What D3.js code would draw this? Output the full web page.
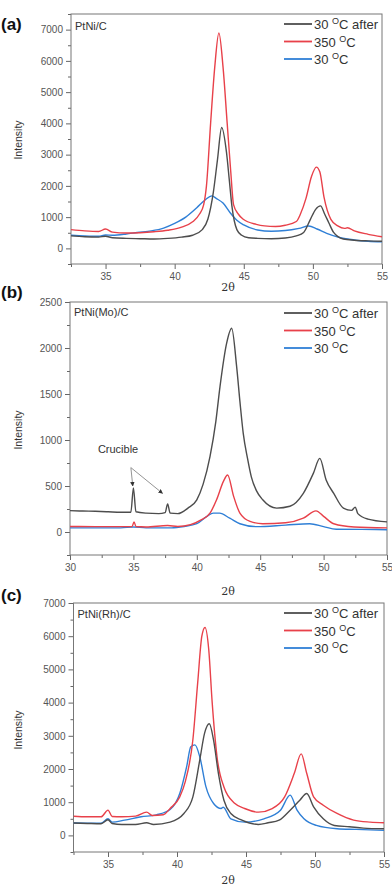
<!DOCTYPE html>
<html><head><meta charset="utf-8">
<script src="https://cdn.jsdelivr.net/npm/d3@7"></script>
<style>body{margin:0;background:#fff}svg{display:block}</style>
</head><body>
<script>
// ---------- data ----------
const seriesNames = ["30 \u00B0C after", "350 \u00B0C", "30 \u00B0C"];
const panelLetters = ["(a)", "(b)", "(c)"];
const sampleNames = ["PtNi/C", "PtNi(Mo)/C", "PtNi(Rh)/C"];

const xTicksA = [35, 40, 45, 50, 55];
const yTicksA = [0, 1000, 2000, 3000, 4000, 5000, 6000, 7000];
const xTicksB = [30, 35, 40, 45, 50, 55];
const yTicksB = [0, 500, 1000, 1500, 2000, 2500];
const xTicksC = [35, 40, 45, 50, 55];
const yTicksC = [0, 1000, 2000, 3000, 4000, 5000, 6000, 7000];

// Panel (a) PtNi/C
const a_after = [[32.5,400],[33.5,370],[34.5,360],[35,390],[35.5,340],[36.5,320],[37.5,310],[38.5,300],[39.5,320],[40.5,360],[41.3,420],[42,600],[42.4,930],[42.8,1800],[43.1,2850],[43.4,3870],[43.75,3070],[43.95,2200],[44.14,1360],[44.5,600],[44.85,420],[45.35,340],[46,320],[47,310],[48,330],[48.8,400],[49.33,510],[49.82,930],[50.2,1250],[50.55,1360],[50.85,1100],[51.15,820],[51.5,510],[52.2,300],[53,260],[54,240],[55,230]];
const a_350 = [[32.5,600],[33.5,560],[34.5,540],[35,620],[35.5,520],[36.5,490],[37.5,500],[38.5,530],[39.5,580],[40.5,680],[41.3,850],[41.8,1100],[42.1,1400],[42.3,2000],[42.6,4000],[42.9,5800],[43.2,6890],[43.5,5800],[43.8,4000],[44.05,2500],[44.26,1400],[44.6,1100],[44.96,930],[45.9,770],[46.5,720],[47.3,700],[48,740],[48.8,860],[49.1,1100],[49.5,1600],[49.9,2300],[50.25,2600],[50.5,2450],[50.8,1650],[51.3,930],[51.8,720],[52.3,640],[52.5,660],[53,560],[54,450],[55,370]];
const a_30 = [[32.5,420],[33.5,400],[34.5,390],[35,430],[35.5,420],[36.5,460],[37.3,510],[38.3,560],[39.2,650],[40,800],[40.8,1000],[41.6,1300],[42.2,1550],[42.7,1680],[43,1600],[43.5,1450],[44,1150],[44.5,900],[45,750],[46,590],[47,550],[48,570],[49,640],[49.7,715],[50.3,620],[51,480],[52,340],[53,270],[54,230],[55,210]];

// Panel (b) PtNi(Mo)/C
const b_after = [[30,232],[31,228],[32,225],[33,220],[34,215],[34.8,215],[35,478],[35.2,220],[36,205],[37,200],[37.5,210],[37.7,304],[37.9,205],[38.5,200],[39.3,260],[40,350],[40.5,520],[41.04,820],[41.5,1200],[41.83,1580],[42.35,2050],[42.75,2214],[43.14,1800],[43.4,1420],[43.66,1075],[44,800],[44.3,600],[44.7,450],[45.2,350],[46.3,260],[47.35,280],[48.4,420],[49.2,640],[49.7,800],[50.2,565],[50.8,420],[51.56,260],[52.2,235],[52.5,270],[52.7,200],[53.5,140],[55,110]];
const b_350 = [[30,60],[32,58],[34,58],[34.9,60],[35.05,110],[35.2,60],[36,55],[37.7,70],[38.5,60],[39.5,80],[40.3,130],[41.04,205],[41.56,350],[42.1,550],[42.43,620],[42.9,390],[43.4,205],[44.2,115],[45.2,90],[47,100],[48.4,150],[49.4,230],[50,170],[50.8,90],[52.4,55],[55,45]];
const b_30 = [[30,45],[32,45],[34,45],[35,55],[36,45],[38,45],[39,60],[40,90],[40.8,170],[41.3,205],[41.8,205],[42.6,150],[43.4,90],[44.7,58],[47,75],[48.9,90],[50,58],[51,30],[53,28],[55,25]];

// Panel (c) PtNi(Rh)/C
const c_after = [[32.5,373],[33.5,360],[34.5,350],[35,470],[35.3,360],[36,330],[37,330],[37.8,380],[38.3,330],[39.5,400],[40.5,660],[41.15,1160],[41.65,2270],[42,3080],[42.34,3364],[42.65,2870],[43,1870],[43.4,1060],[43.9,660],[44.7,460],[45.9,330],[46.6,380],[47.4,460],[48.2,760],[48.9,1060],[49.4,1263],[49.9,860],[50.6,500],[51.4,300],[52.5,260],[53.5,220],[55,200]];
const c_350 = [[32.5,576],[33.5,560],[34.5,560],[35,760],[35.3,570],[36,560],[37,580],[37.8,700],[38.2,600],[39,620],[39.5,810],[40.2,1160],[40.6,1620],[41.15,2880],[41.5,4600],[41.8,6000],[42.03,6264],[42.3,5600],[42.55,4000],[42.9,2370],[43.4,1460],[44.2,960],[44.9,810],[45.9,700],[46.9,810],[47.8,1160],[48.5,1870],[49,2455],[49.4,1870],[49.9,1160],[50.6,910],[51.6,660],[52.8,460],[54,400],[55,380]];
const c_30 = [[32.5,373],[33.5,370],[34.5,370],[35,500],[35.3,400],[36.2,460],[37.4,560],[38.5,620],[39.5,780],[40.2,1260],[40.7,2070],[41,2670],[41.3,2727],[41.65,2370],[42.1,1460],[42.65,960],[43.2,810],[43.35,850],[43.9,500],[44.9,400],[46.3,500],[47.5,760],[48.2,1212],[48.7,760],[49.2,500],[50.1,300],[51.6,200],[53,180],[55,150]];

// ---------- layout ----------
const colors = ["#4d4d4d", "#e8414a", "#2f7fd6"];
const panels = [
  {x0:71, x1:382, y0:14, y1:264, xd:[32.5,55], yd:[-500,7500], xt:xTicksA, yt:yTicksA, xm:2.5, ym:500,
   series:[a_after,a_350,a_30], letterY:30, sampleY:30, legY:24, xlabY:291, ylabY:140},
  {x0:70, x1:387, y0:302, y1:555, xd:[30,55], yd:[-250,2500], xt:xTicksB, yt:yTicksB, xm:2.5, ym:250,
   series:[b_after,b_350,b_30], letterY:298, sampleY:316, legY:313, xlabY:595, ylabY:430},
  {x0:73.5, x1:384, y0:603, y1:852, xd:[32.5,55], yd:[-500,7000], xt:xTicksC, yt:yTicksC, xm:2.5, ym:500,
   series:[c_after,c_350,c_30], letterY:601, sampleY:618, legY:613, xlabY:884, ylabY:730}
];

const svg = d3.select("body").append("svg").attr("width",392).attr("height",888)
  .style("font-family","Arial, 'Liberation Sans', sans-serif");

panels.forEach((p, i) => {
  const x = d3.scaleLinear().domain(p.xd).range([p.x0, p.x1]);
  const y = d3.scaleLinear().domain(p.yd).range([p.y1, p.y0]);
  const g = svg.append("g");

  // minor ticks
  const xMinor = d3.range(p.xd[0], p.xd[1] + 0.001, p.xm).filter(v => !p.xt.includes(v));
  const yMinor = d3.range(Math.ceil(p.yd[0]/p.ym)*p.ym, p.yd[1] + 0.001, p.ym).filter(v => !p.yt.includes(v));
  g.append("g").attr("transform",`translate(0,${p.y1})`)
    .call(d3.axisBottom(x).tickValues(xMinor).tickSize(3).tickFormat(""))
    .call(s => s.select(".domain").remove()).selectAll("line").attr("stroke","#666");
  g.append("g").attr("transform",`translate(${p.x0},0)`)
    .call(d3.axisLeft(y).tickValues(yMinor).tickSize(3).tickFormat(""))
    .call(s => s.select(".domain").remove()).selectAll("line").attr("stroke","#666");

  // major axes
  const xa = g.append("g").attr("transform",`translate(0,${p.y1})`)
    .call(d3.axisBottom(x).tickValues(p.xt).tickSize(5).tickPadding(4).tickFormat(d3.format("d")));
  const ya = g.append("g").attr("transform",`translate(${p.x0},0)`)
    .call(d3.axisLeft(y).tickValues(p.yt).tickSize(5).tickPadding(3).tickFormat(d3.format("d")));
  [xa, ya].forEach(a => {
    a.select(".domain").remove();
    a.selectAll("line").attr("stroke","#666");
    a.selectAll("text").attr("fill","#555").style("font-size","10px").style("font-family","Arial, sans-serif");
  });

  // frame
  g.append("rect").attr("x",p.x0).attr("y",p.y0).attr("width",p.x1-p.x0).attr("height",p.y1-p.y0)
    .attr("fill","none").attr("stroke","#777").attr("stroke-width",1);

  // lines
  const line = d3.line().x(d => x(d[0])).y(d => y(d[1])).curve(d3.curveMonotoneX);
  const clipId = "clip"+i;
  g.append("clipPath").attr("id",clipId).append("rect")
    .attr("x",p.x0).attr("y",p.y0).attr("width",p.x1-p.x0).attr("height",p.y1-p.y0);
  [2,1,0].forEach(k => {
    g.append("path").datum(p.series[k]).attr("d",line).attr("fill","none")
      .attr("stroke",colors[k]).attr("stroke-width",1.4).attr("stroke-linejoin","round")
      .attr("clip-path",`url(#${clipId})`);
  });

  // panel letter
  svg.append("text").attr("x",1).attr("y",p.letterY).text(panelLetters[i])
    .style("font-size","17px").style("font-weight","bold").attr("fill","#111");
  // sample name
  svg.append("text").attr("x",p.x0+4).attr("y",p.sampleY).text(sampleNames[i])
    .style("font-size","11px").attr("fill","#333");

  // legend
  seriesNames.forEach((nm, k) => {
    const ly = p.legY + k*17.5;
    svg.append("line").attr("x1",284).attr("x2",312).attr("y1",ly).attr("y2",ly)
      .attr("stroke",colors[k]).attr("stroke-width",1.8);
    const t = svg.append("text").attr("x",314).attr("y",ly+5).style("font-size","13px").attr("fill","#333");
    const parts = nm.split("\u00B0");
    t.append("tspan").text(parts[0]);
    t.append("tspan").attr("dy",-5).style("font-size","9px").text("O");
    t.append("tspan").attr("dy",5).text(parts[1]);
  });

  // axis titles
  svg.append("text").attr("x",228).attr("y",p.xlabY).attr("text-anchor","middle")
    .style("font-family","'DejaVu Serif', 'Liberation Serif', serif").style("font-size","11px").attr("fill","#333")
    .text("2\u03B8");
  svg.append("text").attr("transform",`translate(22,${p.ylabY}) rotate(-90)`).attr("text-anchor","middle")
    .style("font-size","10.5px").attr("fill","#333").text("Intensity");
});

// crucible annotation (panel b)
{
  const p = panels[1];
  const x = d3.scaleLinear().domain(p.xd).range([p.x0, p.x1]);
  const y = d3.scaleLinear().domain(p.yd).range([p.y1, p.y0]);
  const defs = svg.append("defs");
  defs.append("marker").attr("id","arr").attr("viewBox","0 0 10 10").attr("refX",9).attr("refY",5)
    .attr("markerWidth",5).attr("markerHeight",5).attr("orient","auto")
    .append("path").attr("d","M0,0L10,5L0,10z").attr("fill","#333");
  svg.append("text").attr("x",x(32.2)).attr("y",y(860)).text("Crucible")
    .style("font-size","11px").attr("fill","#333");
  const sx = x(34.8), sy = y(700);
  svg.append("line").attr("x1",sx).attr("y1",sy).attr("x2",x(34.95)).attr("y2",y(500))
    .attr("stroke","#888").attr("stroke-width",0.9).attr("marker-end","url(#arr)");
  svg.append("line").attr("x1",sx).attr("y1",sy).attr("x2",x(37.3)).attr("y2",y(420))
    .attr("stroke","#888").attr("stroke-width",0.9).attr("marker-end","url(#arr)");
}
</script>
</body></html>
